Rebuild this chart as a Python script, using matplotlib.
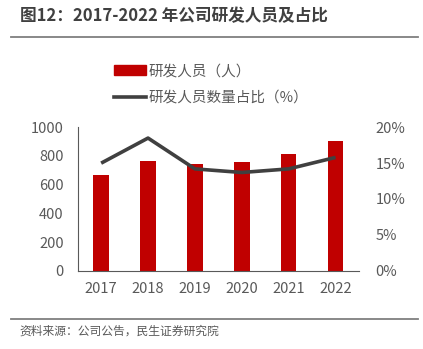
import numpy as np
import matplotlib
matplotlib.use("Agg")
import matplotlib.pyplot as plt
from matplotlib.lines import Line2D
from matplotlib.patches import Patch

plt.rcParams['font.family'] = ['Noto Sans CJK SC', 'DejaVu Sans']

# 数据
years = ['2017', '2018', '2019', '2020', '2021', '2022']
staff = [667, 765, 744, 758, 816, 907]          # 研发人员（人）
ratio = [15.0, 18.5, 14.2, 13.7, 14.2, 15.8]    # 研发人员数量占比（%）

red = '#C00000'
dark = '#404040'
grey = '#595959'

fig = plt.figure(figsize=(4.23, 3.49), dpi=100)
ax = fig.add_axes([0.1837, 0.2244, 0.665, 0.4108])
x = np.arange(len(years))
ax.bar(x, staff, width=0.33, color=red, zorder=2)
ax.set_xlim(-0.5, len(years) - 0.5)
ax.set_ylim(0, 1000)
ax.set_yticks(range(0, 1001, 200))
ax.set_xticks(x)
ax.set_xticklabels(years)
for s in ['top', 'right']:
    ax.spines[s].set_visible(False)
ax.spines['left'].set_color('#595959')
ax.spines['bottom'].set_color('#595959')
ax.tick_params(length=0, labelsize=10.5, colors=grey)
ax.tick_params(axis='x', pad=8)
ax.tick_params(axis='y', pad=10)

ax2 = ax.twinx()
ax2.plot(x, ratio, color=dark, lw=2.6, solid_capstyle='butt', zorder=3)
ax2.set_ylim(0, 20)
ax2.set_yticks(range(0, 21, 5))
ax2.set_yticklabels([f'{v}%' for v in range(0, 21, 5)])
for s in ['top', 'right', 'left', 'bottom']:
    ax2.spines[s].set_visible(False)
ax2.tick_params(length=0, labelsize=10.5, colors=grey, pad=12)

# 图例
handles = [Patch(color=red), Line2D([0], [0], color=dark, lw=2.6)]
labels = ['研发人员（人）', '研发人员数量占比（%）']
fig.legend(handles, labels, loc='upper left', bbox_to_anchor=(0.238, 0.853),
           frameon=False, fontsize=10.5, labelcolor=grey, handlelength=2.2,
           handletextpad=0.15, labelspacing=0.85)

# 标题与来源
fig.text(0.047, 0.955, '图12：2017-2022 年公司研发人员及占比', fontsize=12,
         fontweight='bold', color=dark, va='center')
fig.add_artist(Line2D([0.026, 0.988], [0.895, 0.895], color='#7f7f7f', lw=1.3))
fig.add_artist(Line2D([0.026, 0.988], [0.086, 0.086], color='#7f7f7f', lw=1.3))
fig.text(0.047, 0.052, '资料来源：公司公告，民生证券研究院', fontsize=8.5,
         color=grey, va='center')

fig.savefig('out.png', dpi=100)
